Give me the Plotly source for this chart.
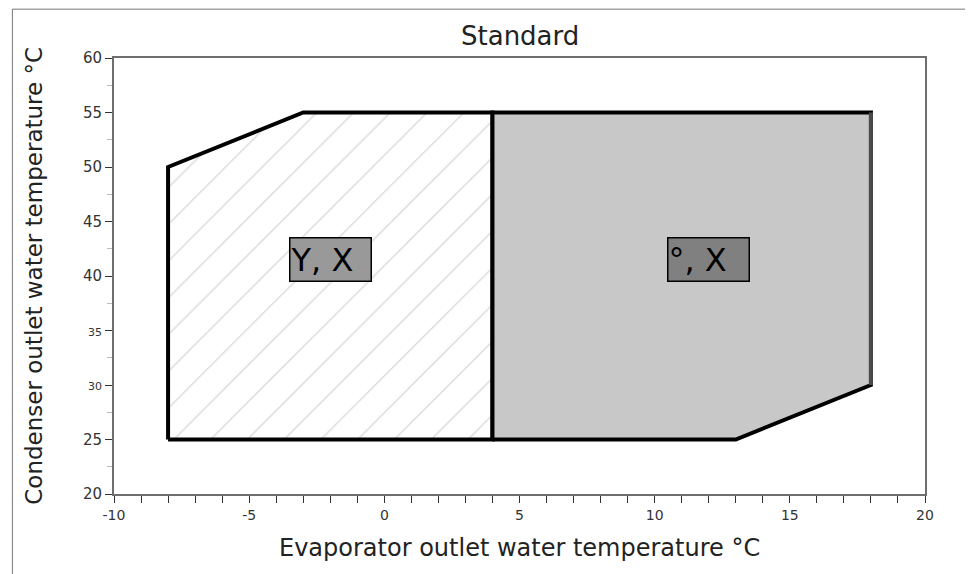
import plotly.graph_objects as go

# operating envelope outlines (evaporator outlet °C, condenser outlet °C)
zone_y_x = [-8, -8, -3, 4, 4, -8]
zone_y_y = [25, 50, 55, 55, 25, 25]
zone_d_x = [4, 4, 18, 18, 13, 4]
zone_d_y = [25, 55, 55, 30, 25, 25]
edge_x = [18, 18]
edge_y = [55, 30]

labels = ["Y, X", "°, X"]
label_x = [-2, 12]
label_y = [41.5, 41.5]
label_bg = ["#999999", "#808080"]

x_ticks = list(range(-10, 21))
x_text = [str(v) if v % 5 == 0 else "" for v in x_ticks]
y_ticks = [20, 25, 30, 35, 40, 45, 50, 55, 60]
y_text = ["20", "25", "<span style='font-size:11px'>30</span>",
          "<span style='font-size:11px'>35</span>", "40", "45", "50", "55", "60"]
y_minor = [22.5, 27.5, 32.5, 37.5, 42.5, 47.5, 52.5, 57.5]

FONT = "DejaVu Sans"

fig = go.Figure()
fig.add_trace(go.Scatter(
    x=zone_y_x, y=zone_y_y, mode="lines", fill="toself",
    fillcolor="white",
    fillpattern=dict(shape="/", fgcolor="#b0b0b0", bgcolor="white",
                     size=26, solidity=0.05),
    line=dict(color="black", width=4), hoverinfo="skip", showlegend=False))
fig.add_trace(go.Scatter(
    x=zone_d_x, y=zone_d_y, mode="lines", fill="toself",
    fillcolor="#c8c8c8",
    line=dict(color="black", width=4), hoverinfo="skip", showlegend=False))
fig.add_trace(go.Scatter(
    x=edge_x, y=edge_y, mode="lines",
    line=dict(color="#4a4a4a", width=4), hoverinfo="skip", showlegend=False))

for t, lx, ly, bg in zip(labels, label_x, label_y, label_bg):
    fig.add_annotation(x=lx, y=ly, text=t, showarrow=False, align="left",
                       font=dict(family=FONT, size=32, color="black"),
                       bgcolor=bg, bordercolor="black", borderwidth=1.5,
                       width=80, height=42, borderpad=0)

# title and axis titles placed as annotations
fig.add_annotation(text="Standard", xref="paper", yref="paper",
                   x=0.5, y=1.05, xanchor="center", yanchor="middle",
                   showarrow=False,
                   font=dict(family=FONT, size=26, color="#222222"))
fig.add_annotation(text="Evaporator outlet water temperature °C",
                   xref="paper", yref="paper", x=0.5, y=-0.124,
                   xanchor="center", yanchor="middle", showarrow=False,
                   font=dict(family=FONT, size=24, color="#222222"))
fig.add_annotation(text="Condenser outlet water temperature °C",
                   xref="paper", yref="paper", x=-0.099, y=0.5,
                   xanchor="center", yanchor="middle", textangle=-90,
                   showarrow=False,
                   font=dict(family=FONT, size=23, color="#222222"))

# outer frame of the picture
fig.add_shape(type="rect", xref="paper", yref="paper",
              x0=-0.1253, x1=1.0535, y0=-0.25, y1=1.112,
              line=dict(color="#777777", width=1), layer="below")

fig.update_layout(
    width=973, height=574,
    margin=dict(l=106, r=56, t=50, b=88),
    plot_bgcolor="white", paper_bgcolor="white",
    font=dict(family=FONT, color="#333333"),
)
fig.update_xaxes(
    range=[-10, 20], showgrid=False, zeroline=False,
    showline=True, linecolor="#6e6e6e", linewidth=2, mirror=True,
    tickmode="array", tickvals=x_ticks, ticktext=x_text,
    ticks="outside", ticklen=7, tickwidth=1, tickcolor="#333333",
    tickfont=dict(size=14, color="#333333"),
)
fig.update_yaxes(
    range=[20, 60], showgrid=False, zeroline=False,
    showline=True, linecolor="#6e6e6e", linewidth=2, mirror=True,
    tickmode="array", tickvals=y_ticks, ticktext=y_text,
    ticks="outside", ticklen=7, tickwidth=1, tickcolor="#333333",
    tickfont=dict(size=15, color="#333333"),
    minor=dict(tickmode="array", tickvals=y_minor, ticks="outside",
               ticklen=5, tickcolor="#bbbbbb"),
)

fig.write_html("out.html")
